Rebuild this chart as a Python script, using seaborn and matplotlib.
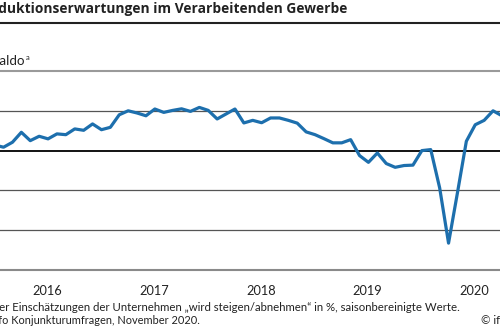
import matplotlib
matplotlib.use("Agg")
import matplotlib.pyplot as plt
import seaborn as sns
import pandas as pd
import numpy as np

# ---- data ----
start_month = "2016-01"
values = [2.8, 1.7, 4.2, 9.2, 5.0, 7.2, 5.9, 8.4, 8.0, 10.9, 10.2, 13.4,
          10.5, 11.7, 18.0, 20.0, 18.9, 17.5, 20.9, 19.2, 20.2, 21.0, 19.7, 21.7,
          20.2, 15.9, 18.4, 20.9, 13.9, 15.2, 14.0, 16.4, 16.4, 15.2, 13.8, 9.4,
          8.0, 6.0, 3.9, 3.9, 5.5, -2.5, -5.9, -1.2, -6.5, -8.4, -7.5, -7.3,
          0.0, 0.5, -18.7, -46.5, -21.2, 4.7, 13.0, 15.2, 20.0, 17.5]
years = ["2016", "2017", "2018", "2019", "2020"]
y_grid = [-40, -20, 0, 20, 40]

title = "Produktionserwartungen im Verarbeitenden Gewerbe"
unit = "Saldo"
foot1 = "a Saldo der Einschätzungen der Unternehmen \u201ewird steigen/abnehmen\u201c in %, saisonbereinigte Werte."
foot2 = "Quelle: ifo Konjunkturumfragen, November 2020."
copyright_txt = "\u00a9 ifo Institut"

months = pd.date_range(start_month, periods=len(values), freq="MS")
base = pd.Timestamp("2016-01-01")
df = pd.DataFrame({
    "x": [(d.year - base.year) * 12 + (d.month - base.month) + 0.5 for d in months],
    "saldo": values,
})

sns.set_style("white")
plt.rcParams["font.family"] = ["Lato", "DejaVu Sans"]

W, H = 500, 330
fig = plt.figure(figsize=(W / 100, H / 100), dpi=100)
renderer = fig.canvas.get_renderer()

px_per_month = 8.9
x0_px = -9.8  # pixel of Jan 2016 boundary
xlo, xhi = -12, 60
left_px = x0_px + px_per_month * xlo
right_px = x0_px + px_per_month * xhi
top_px, bot_px = 71, 270
ax = fig.add_axes([left_px / W, 1 - bot_px / H, (right_px - left_px) / W, (bot_px - top_px) / H])

blue = "#1d6fad"
for g in y_grid:
    if g == 0:
        ax.axhline(g, color="black", lw=1.3, zorder=1)
    elif g == 40:
        ax.axhline(g, color="#9a9a9a", lw=1.5, zorder=1, clip_on=False)
    else:
        ax.axhline(g, color="#555555", lw=0.9, zorder=1)

sns.lineplot(data=df, x="x", y="saldo", ax=ax, color=blue, lw=2.3, zorder=3)

ax.set_xlim(xlo, xhi)
ax.set_ylim(-60, 40)
for s in ["top", "left", "right"]:
    ax.spines[s].set_visible(False)
ax.spines["bottom"].set_color("#8a8a8a")
ax.spines["bottom"].set_linewidth(1.5)
ax.set_yticks([])
ax.set_xlabel("")
ax.set_ylabel("")

ax.set_xticks([12 * i for i in range(-1, 6)])
ax.set_xticklabels([])
ax.tick_params(axis="x", which="major", direction="out", length=3.5, width=1.2, color="#8a8a8a")
ax.set_xticks([12 * i + 6.4 for i in range(len(years))], minor=True)
ax.set_xticklabels(years, minor=True)
ax.tick_params(axis="x", which="minor", length=0, pad=11, labelsize=9.2, labelcolor="#222222")


def fit_size(visible, target_px, weight="normal", family=None):
    kw = dict(fontsize=10, fontweight=weight)
    if family:
        kw["family"] = family
    t = fig.text(0, 0, visible, **kw)
    w = t.get_window_extent(renderer).width
    t.remove()
    return 10 * target_px / w


def put(full, visible_tail, right_px_, baseline_px, weight="normal", family=None):
    # full text anchored at its right end, sized so that the visible tail spans [0, right]
    fs = fit_size(visible_tail, right_px_, weight, family)
    kw = dict(ha="right", va="baseline", fontsize=fs, fontweight=weight, color="#222222")
    if family:
        kw["family"] = family
    fig.text(right_px_ / W, 1 - baseline_px / H, full, **kw)
    return fs


# title and header
put(title, "duktionserwartungen im Verarbeitenden Gewerbe", 347, 12.5, weight="bold",
    family=["Open Sans", "DejaVu Sans"])
fig.add_artist(plt.Line2D([0, 1], [1 - 23 / H, 1 - 23 / H], color="#222222", lw=1.5))
put(unit, "aldo", 25, 65)
fig.text(26 / W, 1 - 60 / H, "a", ha="left", va="baseline", fontsize=5.5, color="#222222")

# footnotes
fs1 = put(foot1, "er Einschätzungen der Unternehmen \u201ewird steigen/abnehmen\u201c in %, saisonbereinigte Werte.",
          460, 311)
put(foot2, "fo Konjunkturumfragen, November 2020.", 200, 324.5)
fig.text(481 / W, 1 - 324.5 / H, copyright_txt, ha="left", va="baseline", fontsize=fs1, color="#222222")

fig.savefig("out.png", dpi=100)
